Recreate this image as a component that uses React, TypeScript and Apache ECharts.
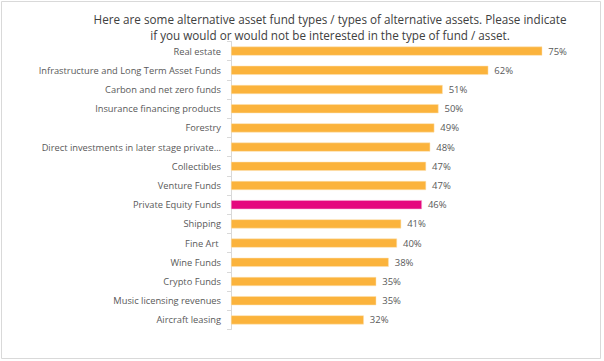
import React, { useEffect, useRef } from "react";
import * as echarts from "echarts";

const titleLines = [
  "Here are some alternative asset fund types / types of alternative assets. Please indicate",
  "if you would or would not be interested in the type of fund / asset.",
];

const categories = [
  "Real estate",
  "Infrastructure and Long Term Asset Funds",
  "Carbon and net zero funds",
  "Insurance financing products",
  "Forestry",
  "Direct investments in later stage private…",
  "Collectibles",
  "Venture Funds",
  "Private Equity Funds",
  "Shipping",
  "Fine Art ",
  "Wine Funds",
  "Crypto Funds",
  "Music licensing revenues",
  "Aircraft leasing",
];

const values = [75, 62, 51, 50, 49, 48, 47, 47, 46, 41, 40, 38, 35, 35, 32];

const highlighted = "Private Equity Funds";

export default function App() {
  const ref = useRef<HTMLDivElement>(null);
  useEffect(() => {
    if (!ref.current) return;
    const chart = echarts.init(ref.current, undefined, { renderer: "svg" });
    chart.setOption({
      animation: false,
      backgroundColor: "#ffffff",
      textStyle: { fontFamily: "Open Sans" },
      graphic: [
        {
          type: "rect",
          shape: { x: 1.5, y: 1.5, width: 599, height: 357 },
          style: { fill: "none", stroke: "#d9d9d9", lineWidth: 1 },
        },
        {
          type: "text",
          x: 330,
          y: 11,
          style: {
            text: titleLines.join("\n"),
            fontFamily: "Open Sans",
            fontSize: 11.7,
            lineHeight: 16,
            fill: "#404040",
            align: "center",
            verticalAlign: "top",
          },
        },
      ],
      grid: { left: 231, right: 41, top: 41.5, bottom: 31.5 },
      xAxis: {
        type: "value",
        min: 0,
        max: 80,
        show: false,
      },
      yAxis: {
        type: "category",
        data: categories,
        inverse: true,
        axisLine: { show: true, lineStyle: { color: "#d9d9d9" } },
        axisTick: { show: true, length: 4, lineStyle: { color: "#d9d9d9" } },
        axisLabel: {
          color: "#595959",
          fontSize: 9.3,
          fontFamily: "Open Sans",
          margin: 10,
        },
      },
      series: [
        {
          type: "bar",
          barWidth: 9,
          data: values.map((v, i) => ({
            value: v,
            itemStyle: {
              color: categories[i] === highlighted ? "#e5087e" : "#fbb33c",
              borderColor: categories[i] === highlighted ? "#f7b3d7" : "#fde0b0",
              borderWidth: 0.5,
            },
          })),
          label: {
            show: true,
            position: "right",
            distance: 6,
            formatter: "{c}%",
            color: "#595959",
            fontSize: 9.5,
            fontFamily: "Open Sans",
          },
        },
      ],
    });
    return () => chart.dispose();
  }, []);
  return (
    <div
      ref={ref}
      style={{ position: "fixed", left: 0, top: 0, width: 604, height: 361 }}
    />
  );
}
